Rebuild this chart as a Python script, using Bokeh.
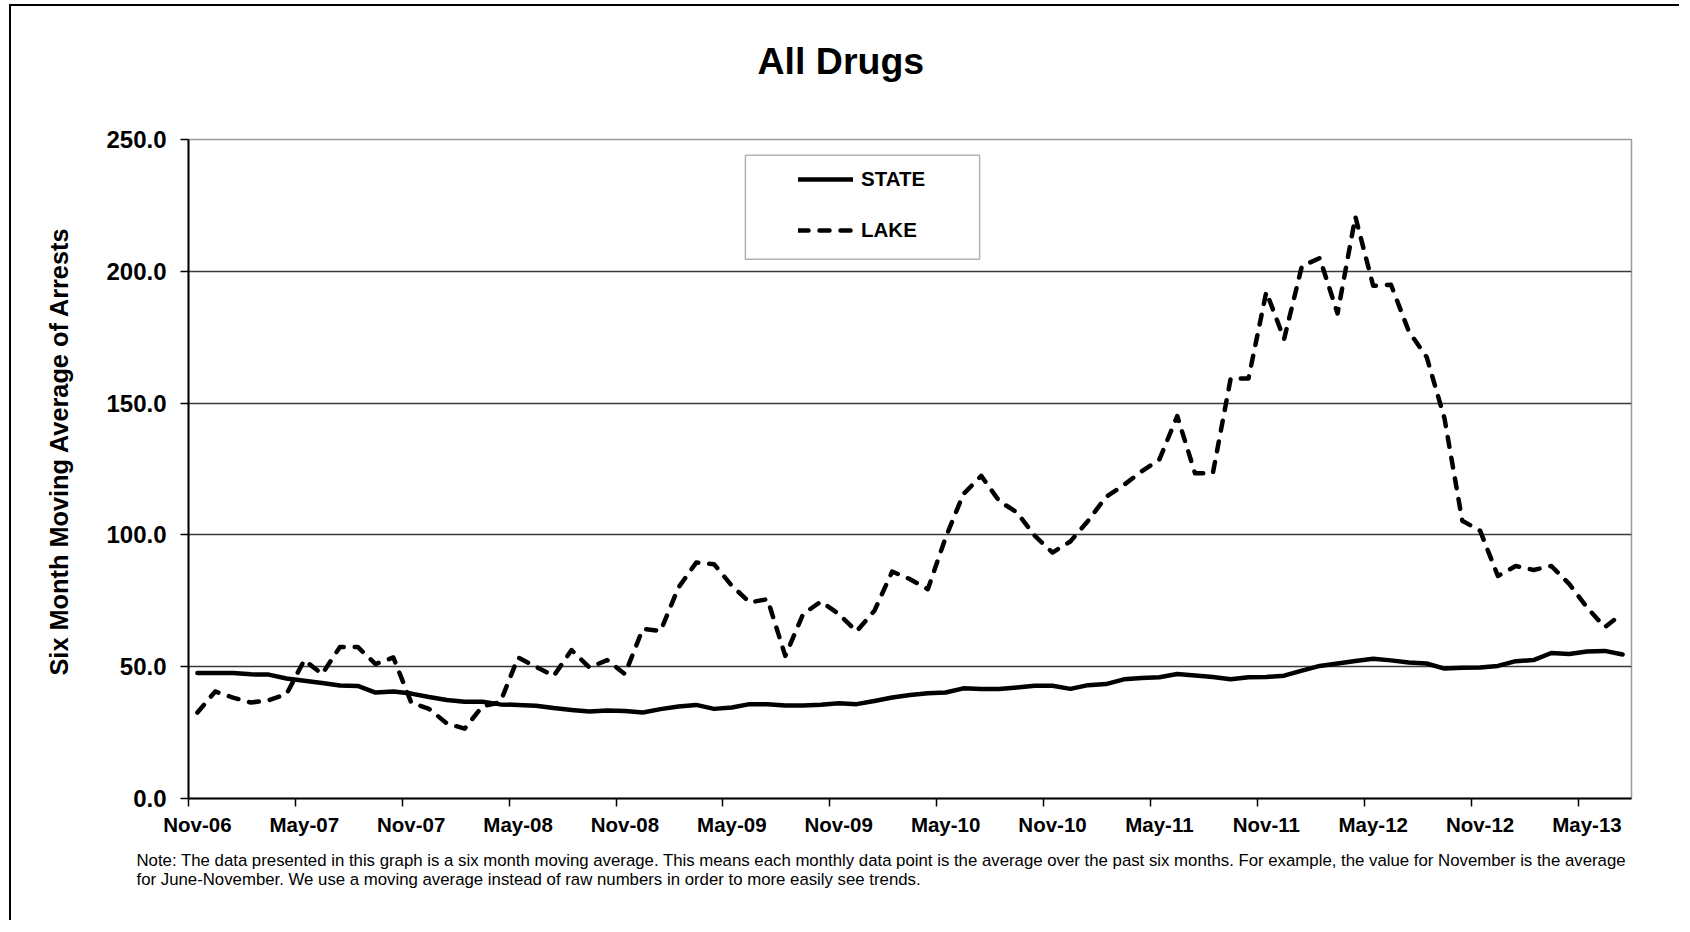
from bokeh.plotting import figure
from bokeh.models import (FixedTicker, Range1d, Title, Legend, LegendItem,
                          BoxAnnotation, ColumnDataSource, PrintfTickFormatter)
from bokeh.embed import file_html
from bokeh.resources import INLINE

# ---------------- data ----------------
month_index = list(range(81))  # Nov-06 .. Jul-13
tick_labels = ["Nov-06", "May-07", "Nov-07", "May-08", "Nov-08", "May-09", "Nov-09",
               "May-10", "Nov-10", "May-11", "Nov-11", "May-12", "Nov-12", "May-13"]
state = [47.6, 47.6, 47.6, 47.1, 47.0, 45.5, 44.7, 43.8, 42.9, 42.7,
         40.2, 40.6, 39.8, 38.5, 37.4, 36.7, 36.7, 35.7, 35.5, 35.2,
         34.3, 33.6, 33.0, 33.4, 33.2, 32.6, 33.9, 34.9, 35.5, 34.0,
         34.5, 35.8, 35.8, 35.3, 35.3, 35.6, 36.1, 35.8, 37.0, 38.3,
         39.3, 39.9, 40.2, 41.8, 41.5, 41.5, 42.1, 42.8, 42.8, 41.6,
         43.0, 43.4, 45.2, 45.7, 46.0, 47.2, 46.7, 46.1, 45.2, 46.0,
         46.1, 46.6, 48.5, 50.3, 51.2, 52.2, 53.0, 52.4, 51.6, 51.2,
         49.3, 49.6, 49.7, 50.3, 52.1, 52.5, 55.2, 54.8, 55.8, 56.0,
         54.6]
lake = [32.6, 40.6, 38.3, 36.4, 37.3, 39.6, 52.5, 47.2, 57.5, 57.5,
        51.0, 53.5, 36.4, 34.0, 28.5, 26.5, 35.0, 36.5, 53.5, 50.0,
        46.5, 56.3, 49.7, 52.5, 47.2, 64.3, 63.6, 80.0, 89.5, 88.9,
        80.7, 74.4, 75.6, 54.1, 70.0, 74.7, 70.0, 63.4, 71.2, 86.1,
        83.2, 79.4, 99.0, 115.5, 122.4, 112.9, 108.5, 99.7, 93.3, 97.5,
        105.4, 114.4, 118.9, 124.1, 128.6, 145.1, 123.4, 123.4, 159.3, 159.3,
        192.2, 174.3, 202.0, 205.0, 184.0, 220.7, 194.5, 194.9, 177.2, 167.5,
        144.3, 105.4, 101.6, 84.4, 88.2, 86.7, 88.2, 81.4, 72.5, 65.0,
        70.2]
y_ticks = [0, 50, 100, 150, 200, 250]
title_text = "All Drugs"
y_label = "Six Month Moving Average of Arrests"
note1 = ("Note: The data presented in this graph is a six month moving average. This means each "
         "monthly data point is the average over the past six months. For example, the value for "
         "November is the average")
note2 = ("for June-November. We use a moving average instead of raw numbers in order to more "
         "easily see trends.")

FONT = "Liberation Sans"

src = ColumnDataSource(dict(x=month_index, state=state, lake=lake))

p = figure(width=1670, height=916,
           x_range=Range1d(-0.5, len(month_index) - 0.5), y_range=Range1d(0, 250),
           output_backend="svg", toolbar_location=None,
           min_border_left=177, min_border_right=50,
           min_border_top=133, min_border_bottom=124)
p.styles = {"border-left": "2px solid #000", "border-top": "2px solid #000",
            "margin-top": "4px", "margin-left": "9px"}
p.background_fill_color = "white"
p.border_fill_color = "white"
p.outline_line_color = "#9a9a9a"
p.outline_line_width = 1.5

# chart title (outermost "above" panel); a blank spacer panel lifts it off the frame
p.add_layout(Title(text=" ", text_font=FONT, text_font_size="10px", standoff=40), "above")
p.title.text = title_text
p.title.align = "left"
p.title.offset = 569
p.title.text_font = FONT
p.title.text_font_size = "37.5px"
p.title.text_font_style = "bold"
p.title.text_color = "black"
p.title.standoff = 10

# x axis: labels at month centers, tick marks between months
xa = p.xaxis[0]
xa.ticker = FixedTicker(ticks=[6 * i for i in range(len(tick_labels))],
                        minor_ticks=[6 * i - 0.5 for i in range(len(tick_labels))])
xa.major_label_overrides = {6 * i: lab for i, lab in enumerate(tick_labels)}
xa.major_tick_out = 0
xa.major_tick_in = 0
xa.minor_tick_out = 8
xa.minor_tick_in = 0
xa.minor_tick_line_color = "black"
xa.minor_tick_line_width = 1.5
xa.axis_line_color = "black"
xa.axis_line_width = 2
xa.major_label_text_font = FONT
xa.major_label_text_font_size = "20.5px"
xa.major_label_text_font_style = "bold"
xa.major_label_text_color = "black"
xa.major_label_standoff = 6

ya = p.yaxis[0]
ya.ticker = FixedTicker(ticks=y_ticks, minor_ticks=[])
ya.formatter = PrintfTickFormatter(format="%.1f")
ya.major_tick_out = 8
ya.major_tick_in = 0
ya.major_tick_line_color = "black"
ya.major_tick_line_width = 1.5
ya.minor_tick_line_color = None
ya.axis_line_color = "black"
ya.axis_line_width = 2
ya.major_label_text_font = FONT
ya.major_label_text_font_size = "24px"
ya.major_label_text_font_style = "bold"
ya.major_label_text_color = "black"
ya.major_label_standoff = 14

p.xgrid.grid_line_color = None
p.ygrid.ticker = FixedTicker(ticks=y_ticks[1:-1])
p.ygrid.grid_line_color = "#3a3a3a"
p.ygrid.grid_line_width = 1.5

# y label as a left title (positioned along the axis like the original)
p.add_layout(Title(text=y_label, align="left", offset=123, text_font=FONT,
                   text_font_size="25.3px", text_font_style="bold", text_color="black",
                   standoff=61), "left")

# footnote below the axis
p.add_layout(Title(text=note1 + "\n" + note2, align="left", offset=-52, text_font=FONT,
                   text_font_size="16.8px", text_font_style="normal", text_color="black",
                   text_line_height=0.98, standoff=21), "below")

# lines
r_state = p.line("x", "state", source=src, line_color="black", line_width=4.5,
                 line_join="round", line_cap="round")
r_lake = p.line("x", "lake", source=src, line_color="black", line_width=4.5,
                line_dash="10 11", line_join="round", line_cap="round")

# legend box
box = BoxAnnotation(left=30.76, right=43.91, bottom=204.6, top=244.05,
                    fill_color="white", fill_alpha=1.0,
                    line_color="black", line_width=1.5)
p.add_layout(box)

legend = Legend(items=[LegendItem(label="STATE", renderers=[r_state]),
                       LegendItem(label="LAKE", renderers=[r_lake])],
                location=(610, 556), orientation="vertical",
                border_line_color=None, background_fill_alpha=0,
                padding=10, spacing=27, margin=0,
                glyph_width=55, glyph_height=20, label_standoff=8,
                label_text_font=FONT, label_text_font_size="20.5px",
                label_text_font_style="bold", label_text_color="black")
p.add_layout(legend)

open("out.html", "w").write(file_html(p, INLINE))
